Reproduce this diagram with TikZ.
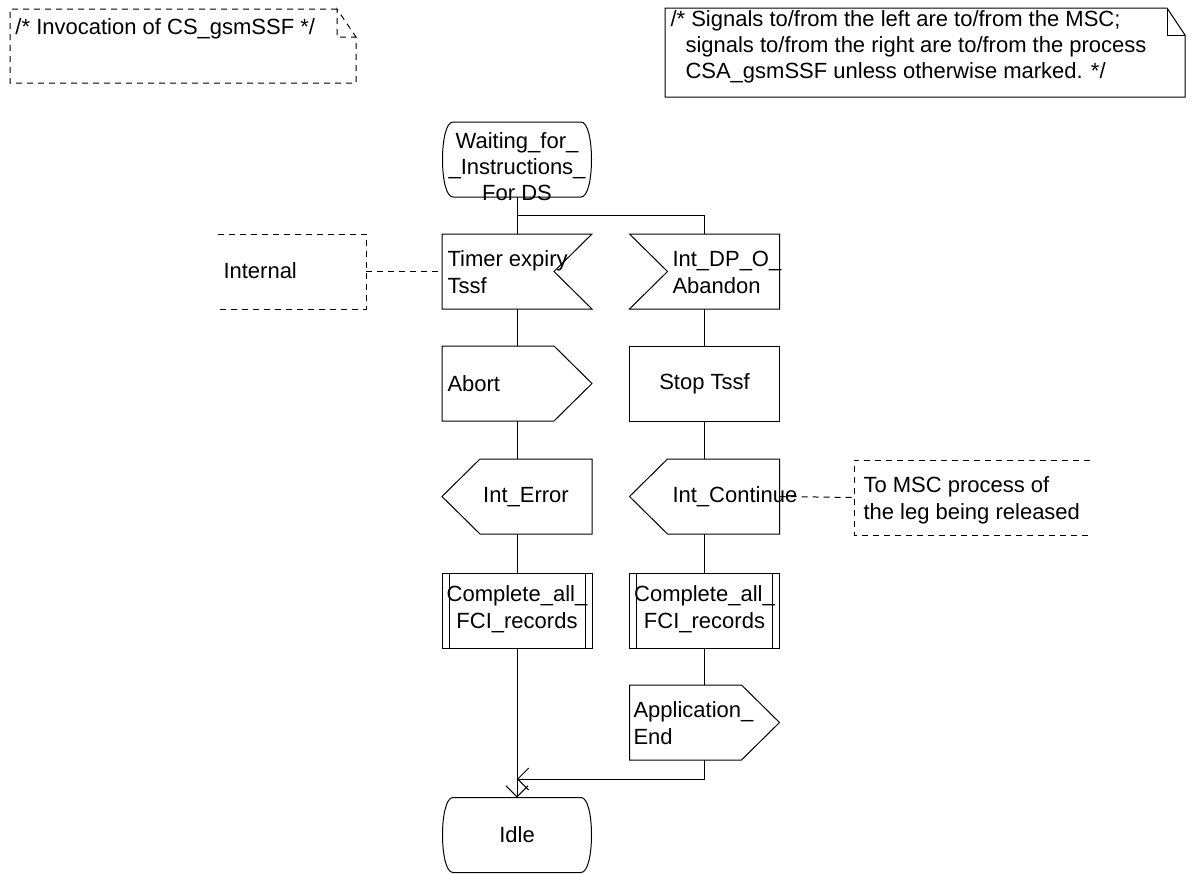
\documentclass[tikz,border=0pt]{standalone}
\usepackage{fontspec}
\setmainfont{Liberation Sans}
\usetikzlibrary{calc,arrows.meta}

\newcommand\sdlstate[1]{\draw ($(#1.north west)+(11,0)$) -- ($(#1.north east)+(-11,0)$) .. controls ($(#1.north east)+(3,0)$) and ($(#1.south east)+(3,0)$) .. ($(#1.south east)+(-11,0)$) -- ($(#1.south west)+(11,0)$) .. controls ($(#1.south west)+(-3,0)$) and ($(#1.north west)+(-3,0)$) .. cycle;}
\newcommand\sdlinR[1]{\draw (#1.north west) -- (#1.north east) -- ($(#1.east)+(-38,0)$) -- (#1.south east) -- (#1.south west) -- cycle;}
\newcommand\sdlinL[1]{\draw (#1.north west) -- (#1.north east) -- (#1.south east) -- (#1.south west) -- ($(#1.west)+(38,0)$) -- cycle;}
\newcommand\sdloutR[1]{\draw (#1.north west) -- ($(#1.north east)+(-38,0)$) -- (#1.east) -- ($(#1.south east)+(-38,0)$) -- (#1.south west) -- cycle;}
\newcommand\sdloutL[1]{\draw (#1.west) -- ($(#1.north west)+(38,0)$) -- (#1.north east) -- (#1.south east) -- ($(#1.south west)+(38,0)$) -- cycle;}
\newcommand\sdlproc[1]{\draw (#1.north west) rectangle (#1.south east);
  \draw ($(#1.north west)+(7,0)$) -- ($(#1.south west)+(7,0)$);
  \draw ($(#1.north east)+(-7,0)$) -- ($(#1.south east)+(-7,0)$);}

\begin{document}
\begin{tikzpicture}[x=1pt,y=-1pt,line width=1pt,
  shp/.style={draw=none,inner sep=0pt,outer sep=0pt,minimum width=150pt,minimum height=75pt},
  taskbox/.style={shp,draw},
  lbl/.style={font=\fontsize{22}{27}\selectfont,align=left,inner sep=0pt},
  lblc/.style={font=\fontsize{22}{27}\selectfont,align=center,inner sep=0pt},
  cdash/.style={dash pattern=on 6pt off 5pt},
  flow/.style={-{Straight Barb[length=11pt,width=22pt]}},
]
\useasboundingbox (0,0) rectangle (1194,873);

% comments at top
\node[shp,minimum width=346pt,minimum height=74pt] (cinv) at (183,46) {};
\draw[cdash] ($(cinv.north east)+(-19,0)$) -- (cinv.north west) -- (cinv.south west) -- (cinv.south east) -- ($(cinv.north east)+(0,28)$) -- ($(cinv.north east)+(-19,0)$) -- ($(cinv.north east)+(-19,28)$) -- ($(cinv.north east)+(0,28)$);
\node[lbl,anchor=west] (tinv) at (15,29) {/* Invocation of CS\_gsmSSF */};

\node[shp,minimum width=520pt,minimum height=89pt] (csig) at (925,52.5) {};
\draw ($(csig.north east)+(-18,0)$) -- (csig.north west) -- (csig.south west) -- (csig.south east) -- ($(csig.north east)+(0,27)$) -- cycle;
\draw ($(csig.north east)+(-18,0)$) -- ($(csig.north east)+(-18,27)$) -- ($(csig.north east)+(0,27)$);
\node[font=\fontsize{22}{26}\selectfont,align=left,inner sep=0pt,anchor=west] (tsig) at (670,47) {/* Signals to/from the left are to/from the MSC;\\\hspace*{15pt}signals to/from the right are to/from the process\\\hspace*{15pt}CSA\_gsmSSF unless otherwise marked. */};

% state
\node[shp] (ws) at (517,159.5) {};
\sdlstate{ws}
\node[lblc,font=\fontsize{22}{26}\selectfont] (tws) at (517,167) {Waiting\_for\_\\\_Instructions\_\\For DS};

% inputs
\node[shp] (t1) at (517,271.5) {};
\sdlinR{t1}
\node[lbl,anchor=west] (tt1) at (447,272.5) {Timer expiry\\Tssf};
\node[shp] (t2) at (704.5,271.5) {};
\sdlinL{t2}
\node[lbl,anchor=west] (tt2) at (672,272.5) {Int\_DP\_O\_\\Abandon};

% internal comment
\node[shp,minimum width=148pt] (cint) at (292,271.5) {};
\draw[cdash] (cint.north west) -- (cint.north east) -- (cint.south east) -- (cint.south west);
\node[lbl,anchor=west] (tint) at (223,271) {Internal};
\draw[cdash] (cint.east) -- (t1.west);

% abort / stop
\node[shp] (ab) at (517,383.5) {};
\sdloutR{ab}
\node[lbl,anchor=west] (tab) at (447,384) {Abort};
\node[taskbox] (st) at (704.5,383.5) {};
\node[lblc] (tst) at (704.5,384) {Stop Tssf};

% Int_Error / Int_Continue
\node[shp] (ie) at (517,496.5) {};
\sdloutL{ie}
\node[lblc] (tie) at (526,497) {Int\_Error};
\node[shp] (ic) at (704.5,496.5) {};
\sdloutL{ic}
\node[lbl,anchor=west] (tic) at (672,497) {Int\_Continue};

% MSC comment
\node[shp,minimum width=236pt] (cmsc) at (972,497.5) {};
\draw[cdash] (cmsc.north east) -- (cmsc.north west) -- (cmsc.south west) -- (cmsc.south east);
\node[lbl,anchor=west] (tmsc) at (863,500) {To MSC process of\\the leg being released};
\draw[cdash] (ic.east) -- (cmsc.west);

% procedures
\node[shp] (cp1) at (517,610.5) {};
\sdlproc{cp1}
\node[lblc] (tcp1) at (517,609) {Complete\_all\_\\FCI\_records};
\node[shp] (cp2) at (704.5,610.5) {};
\sdlproc{cp2}
\node[lblc] (tcp2) at (704.5,609) {Complete\_all\_\\FCI\_records};

% application end
\node[shp] (ap) at (704.5,722.5) {};
\sdloutR{ap}
\node[lbl,anchor=west] (tap) at (633,723.5) {Application\_\\End};

% idle
\node[shp] (idle) at (517,835) {};
\sdlstate{idle}
\node[lblc] (tidle) at (517,835) {Idle};

% connectors
\coordinate (br) at (517,215);
\coordinate (mg) at (517,779);
\draw (ws.south) -- (t1.north);
\draw (br) -| (t2.north);
\draw (t1.south) -- (ab.north);
\draw (ab.south) -- (ie.north);
\draw (ie.south) -- (cp1.north);
\draw[flow] (cp1.south) -- (idle.north);
\draw (t2.south) -- (st.north);
\draw (st.south) -- (ic.north);
\draw (ic.south) -- (cp2.north);
\draw (cp2.south) -- (ap.north);
\draw[flow] (ap.south) |- (mg);
\end{tikzpicture}
\end{document}
